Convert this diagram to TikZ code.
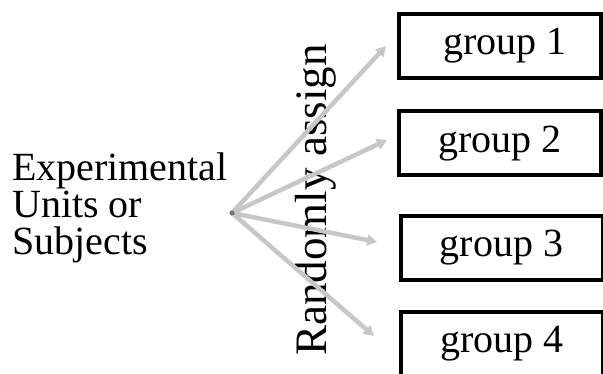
\documentclass[tikz,border=0pt]{standalone}
\usepackage{fontspec}
\setmainfont{Liberation Serif}
\usetikzlibrary{arrows.meta}
\tikzset{
  grp/.style={draw=black, line width=4pt, rectangle, inner sep=0pt, minimum width=202pt, minimum height=64pt, font=\fontsize{40}{44}\selectfont, text=black},
  assignarrow/.style={draw=black!22, line width=4.5pt, -{Triangle[length=10pt,width=11pt]}},
  lbl/.style={inner sep=0pt, font=\fontsize{40}{37}\selectfont}
}
\begin{document}
\begin{tikzpicture}[x=1pt,y=-1pt]
\useasboundingbox (0,0) rectangle (603,374);
\begin{scope}
\clip (0,0) rectangle (603,374);
\node[grp] (g1) at (500,46) {\hspace*{10pt}group 1};
\node[grp] (g2) at (500,143.5) {group 2};
\node[grp] (g3) at (501.5,248) {group 3};
\node[grp] (g4) at (502,344) {\raisebox{-4pt}{group 4}};
\end{scope}
\node[lbl, align=left, anchor=west] (src) at (12,208) {Experimental\\Units or\\Subjects};
\node[inner sep=0pt, rotate=90, anchor=base, font=\fontsize{45}{46}\selectfont] (ra) at (326,200) {Randomly assign};
\coordinate (o) at (232,213);
\coordinate (e1) at (386,46);
\coordinate (e2) at (387,140);
\coordinate (e3) at (377,242);
\coordinate (e4) at (374,336);
\foreach \e in {e1,e2,e3,e4} \draw[assignarrow] (o) -- (\e);
\fill[black!55] (o) circle (2.5pt);
\end{tikzpicture}
\end{document}
